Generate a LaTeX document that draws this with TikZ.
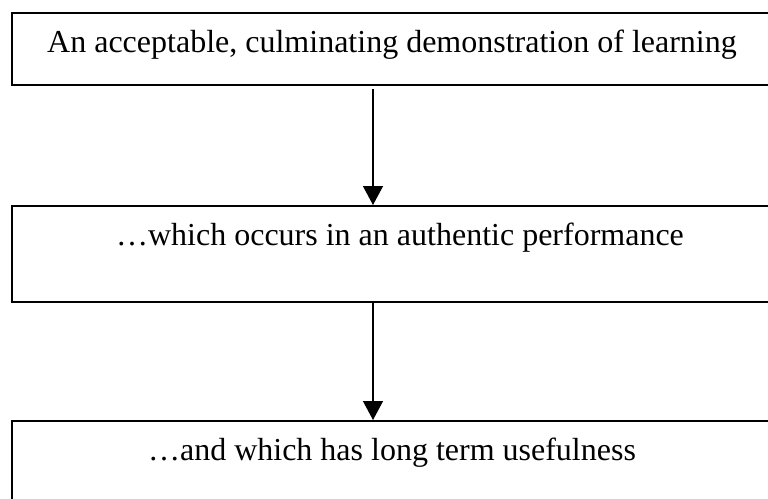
\documentclass[tikz,border=0pt]{standalone}
\usepackage{fontspec}
\setmainfont{Liberation Serif}
\usetikzlibrary{arrows.meta}
\begin{document}
\begin{tikzpicture}[x=1pt,y=-1pt,
  stagebox/.style={draw=black, line width=1.6pt, minimum width=760pt, inner ysep=0pt,
    font=\fontsize{32}{38}\selectfont, text height=40pt, anchor=north},
  flow/.style={draw=black, line width=1.3pt, -{Triangle[width=20pt,length=19pt]}}
]
\useasboundingbox (0,0) rectangle (768,498);
\clip (0,0) rectangle (768,498);
\fill[white] (0,0) rectangle (768,498);
\node[stagebox, text depth=32pt] (b1) at (392,12) {An acceptable, culminating demonstration of learning};
\node[stagebox, text depth=56pt] (b2) at (392,205) {\hspace*{16pt}…which occurs in an authentic performance};
\node[stagebox, text depth=60pt] (b3) at (392,420) {…and which has long term usefulness};
\coordinate (a1s) at (373,89);
\draw[flow] (a1s) -- (a1s |- b2.north);
\draw[flow] (b2.south -| a1s) -- (a1s |- b3.north);
\end{tikzpicture}
\end{document}
